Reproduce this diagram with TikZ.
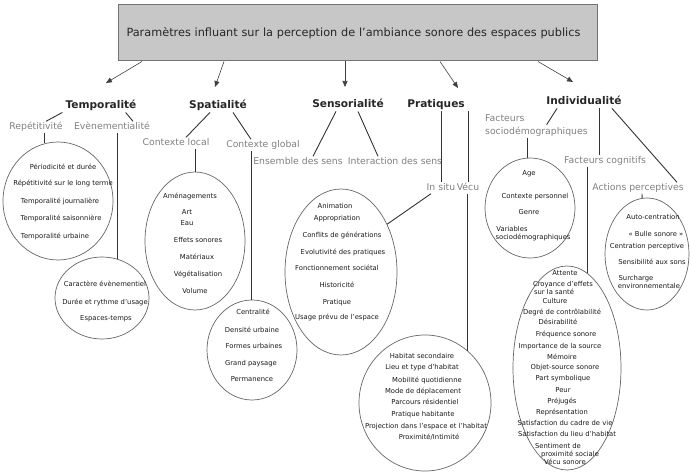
\documentclass[tikz,border=0pt]{standalone}
\usepackage{fontspec}
\setmainfont{DejaVu Sans}
\usetikzlibrary{shapes.geometric}
\usetikzlibrary{arrows.meta}
\tikzset{>=stealth}
\tikzset{
	% boxes and labels
	titlebox/.style={draw=black!55,fill=black!22,line width=1pt,font=\fontsize{11.3}{13}\selectfont,text=black!85,text width=462pt,align=left},
	theme/.style={font=\bfseries\fontsize{10.6}{12}\selectfont,text=black!85,inner sep=1pt,text height=8pt,text depth=2.5pt},
	facet/.style={font=\fontsize{9.3}{11}\selectfont,text=black!50,inner sep=1pt,text height=7pt,text depth=2pt},
	crit/.style={font=\fontsize{6.8}{8}\selectfont,text=black!90,inner sep=0.5pt,text height=5pt,text depth=1.5pt},
	oval/.style={ellipse,draw=black!60,line width=0.7pt,inner sep=0pt},
	% lines
	link/.style={draw=black!80,line width=0.9pt},
	pointer/.style={draw=black!75,line width=0.6pt,-{Triangle[length=6pt,width=5pt]}},
}

\begin{document}
\begin{tikzpicture}[x=1pt,y=-1pt]
	\useasboundingbox (0,0) rectangle (690,473);
	
	\node[titlebox,minimum width=479pt,minimum height=56pt] (title) at (357.5,33) {Paramètres influant sur la perception de l'ambiance sonore des espaces publics};
	
	\coordinate (tipT) at (106,83);
	\coordinate (tipS) at (215,87);
	\coordinate (tipR) at (345,87);
	\coordinate (tipP) at (458,88);
	\coordinate (tipI) at (573,82);
	\draw[pointer] ([xshift=-215.5pt]title.south) -- (tipT);
	\draw[pointer] ([xshift=-133.5pt]title.south) -- (tipS);
	\draw[pointer] ([xshift=-12.5pt]title.south) -- (tipR);
	\draw[pointer] ([xshift=82.5pt]title.south) -- (tipP);
	\draw[pointer] ([xshift=180.5pt]title.south) -- (tipI);
	
	% main themes
	\node[theme] (temp) at (101,106) {Temporalité};
	\node[theme] (spat) at (218,106) {Spatialité};
	\node[theme] (sens) at (348,105) {Sensorialité};
	\node[theme] (prat) at (436,105) {Pratiques};
	\node[theme] (indiv) at (584,102) {Individualité};
	
	% sub themes
	\node[facet] (rep) at (36,127) {Repétitivité};
	\node[facet] (even) at (112,127) {Evènementialité};
	\node[facet] (cloc) at (176,143) {Contexte local};
	\node[facet] (cglob) at (263,145) {Contexte global};
	\node[facet] (ens) at (298,162) {Ensemble des sens};
	\node[facet] (inter) at (395,162) {Interaction des sens};
	\node[facet] (insitu) at (441,188) {In situ};
	\node[facet] (vecu) at (468,188) {Vécu};
	\node[facet,anchor=west] (soc1) at (484,119) {Facteurs};
	\node[facet,anchor=west] (soc2) at (484,132) {sociodémographiques};
	\node[facet] (faccog) at (605,161) {Facteurs cognitifs};
	\node[facet] (actper) at (638,188) {Actions perceptives};
	
	% ovals
	\node[oval,minimum width=110pt,minimum height=118pt] (rythm) at (58,201) {};
	\node[oval,minimum width=94pt,minimum height=82pt] (event) at (102,298) {};
	\node[oval,minimum width=100pt,minimum height=138pt] (local) at (195,241) {};
	\node[oval,minimum width=90pt,minimum height=100pt] (global) at (252,350) {};
	\node[oval,minimum width=112pt,minimum height=166pt] (usage) at (341,272) {};
	\node[oval,minimum width=132pt,minimum height=136pt] (habit) at (425,403) {};
	\node[oval,minimum width=90pt,minimum height=100pt] (socio) at (530,208) {};
	\node[oval,minimum width=108pt,minimum height=204pt] (cogn) at (567,368) {};
	\node[oval,minimum width=84pt,minimum height=112pt] (percep) at (647,254) {};
	
	% connectors
	\draw[link] ([xshift=-2pt]temp.south west) -- ([xshift=10pt]rep.north);
	\draw[link] ([xshift=-12pt]temp.south east) -- ([xshift=21pt]even.north);
	\draw[link] (rythm.103 |- rep.south) -- (rythm.103);
	\draw[link] (event.69 |- even.south) -- (event.69);
	\draw[link] ([xshift=-8pt]spat.south) -- ([xshift=10pt]cloc.north);
	\draw[link] ([xshift=15pt]spat.south) -- ([xshift=-12pt]cglob.north);
	\draw[link] (local.north |- cloc.south) -- (local.north);
	\draw[link] (global.91 |- cglob.south) -- (global.91);
	\draw[link] ([xshift=-12pt]sens.south) -- ([xshift=15pt]ens.north);
	\draw[link] ([xshift=10pt]sens.south) -- ([xshift=-17pt]inter.north);
	\draw[link] (insitu.north |- prat.south) -- (insitu.north);
	\draw[link] (vecu.north |- prat.south) -- (vecu.north);
	\draw[link] ([xshift=-10pt]insitu.south) -- (usage.46);
	\draw[link] (habit.51 |- vecu.south) -- (habit.51);
	\draw[link] ([xshift=-27pt]indiv.south) -- ([xshift=21pt]soc1.south east);
	\draw[link] ([xshift=15pt]indiv.south) -- ([xshift=-6pt]faccog.north);
	\draw[link] ([xshift=28pt]indiv.south) -- ([xshift=39pt]actper.north);
	\draw[link] (socio.93 |- soc2.south) -- (socio.93);
	\draw[link] (cogn.78 |- faccog.south) -- (cogn.78);
	\draw[link] ([xshift=4pt]actper.south) -- (percep.95);
	
	% oval contents
	\foreach \x/\y/\t [count=\k] in {63/168/Périodicité et durée, 63/184/Répétitivité sur le long terme, 60/202/Temporalité journalière, 61/219/Temporalité saisonnière, 55/237/Temporalité urbaine}
		\node[crit] (rythm\k) at (\x,\y) {\t};
	\foreach \x/\y/\t [count=\k] in {105/285/Caractère évènementiel, 105/303/Durée et rythme d'usage, 106/319/Espaces-temps}
		\node[crit] (event\k) at (\x,\y) {\t};
	\foreach \x/\y/\t [count=\k] in {190/197/Aménagements, 187/213/Art, 187/224/Eau, 198/241/Effets sonores, 197/258/Matériaux, 198/275/Végétalisation, 195/292/Volume}
		\node[crit] (local\k) at (\x,\y) {\t};
	\foreach \x/\y/\t [count=\k] in {253/313/Centralité, 252/331/Densité urbaine, 254/347/Formes urbaines, 251/364/Grand paysage, 252/380/Permanence}
		\node[crit] (global\k) at (\x,\y) {\t};
	\foreach \x/\y/\t [count=\k] in {335/207/Animation, 337/219/Appropriation, 342/236/Conflits de générations, 343/253/Evolutivité des pratiques, 337/269/Fonctionnement sociétal, 337/286/Historicité, 337/303/Pratique, 337/318/Usage prévu de l'espace}
		\node[crit] (usage\k) at (\x,\y) {\t};
	\foreach \x/\y/\t [count=\k] in {422/357/Habitat secondaire, 422/368/Lieu et type d'habitat, 427/381/Mobilité quotidienne, 423/392/Mode de déplacement, 425/403/Parcours résidentiel, 423/415/Pratique habitante, 426/427/Projection dans l'espace et l'habitat, 429/438/{Proximité/Intimité}}
		\node[crit] (habit\k) at (\x,\y) {\t};
	\foreach \x/\y/\t [count=\k] in {529/174/Age, 535/197/Contexte personnel, 529/213/Genre, 512/230/Variables, 533/238/sociodémographiques}
		\node[crit] (socio\k) at (\x,\y) {\t};
	\foreach \x/\y/\t [count=\k] in {565/274/Attente, 563/285/Croyance d'effets, 554/293/sur la santé, 555/302/Culture, 562/313/Degré de contrôlabilité, 558/323/Désirabilité, 566/335/Fréquence sonore, 560/347/Importance de la source, 562/358/Mémoire, 565/368/Objet-source sonore, 563/379/Part symbolique, 563/391/Peur, 562/402/Préjugés, 562/413/Représentation, 565/424/Satisfaction du cadre de vie, 567/435/Satisfaction du lieu d'habitat, 558/447/Sentiment de, 570/455/proximité sociale, 565/463/Vécu sonore}
		\node[crit] (cogn\k) at (\x,\y) {\t};
	\foreach \x/\y/\t [count=\k] in {653/218/Auto-centration, 656/235/« Bulle sonore », 647/247/Centration perceptive, 652/263/Sensibilité aux sons, 636/279/Surcharge, 649/287/environnementale}
		\node[crit] (percep\k) at (\x,\y) {\t};
	
\end{tikzpicture}
\end{document}
